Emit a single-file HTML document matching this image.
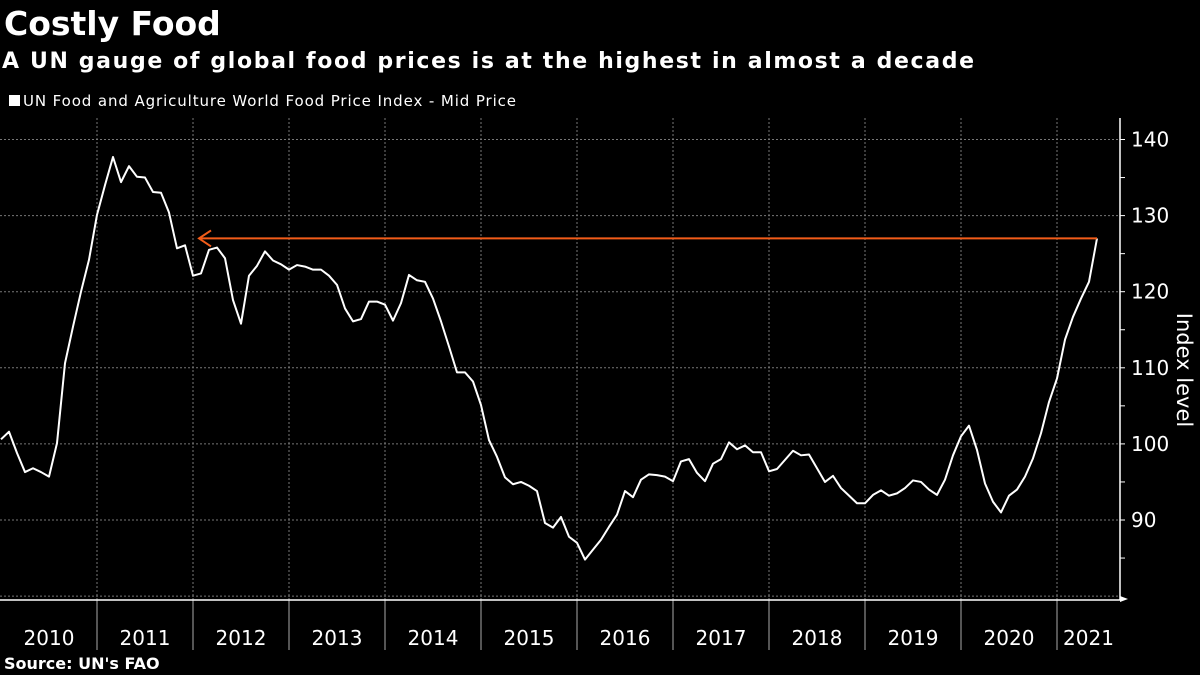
<!DOCTYPE html>
<html><head><meta charset="utf-8"><style>
body{margin:0;background:#000;width:1200px;height:675px;overflow:hidden;font-family:"DejaVu Sans","Liberation Sans",sans-serif;color:#fff}
svg{position:absolute;left:0;top:0}
</style></head><body>
<svg width="1200" height="675">
<text x="4" y="35" font-size="33" font-weight="bold" fill="#fff">Costly Food</text>
<text x="2" y="68" font-size="22" font-weight="bold" fill="#fff" textLength="972">A UN gauge of global food prices is at the highest in almost a decade</text>
<rect x="9" y="95" width="11" height="11" fill="#fff"/>
<text x="23" y="106" font-size="15" fill="#fff" textLength="493">UN Food and Agriculture World Food Price Index - Mid Price</text>
<g id="grid"></g><g id="axes"></g><g id="series"></g>
<text x="1177" y="370" font-size="21" fill="#fff" text-anchor="middle" transform="rotate(90 1177 370)">Index level</text>
<text x="4" y="669" font-size="16" font-weight="bold" fill="#fff">Source: UN's FAO</text>
</svg>
<script>
const years=["2010","2011","2012","2013","2014","2015","2016","2017","2018","2019","2020","2021"];
const yTicks=[90,100,110,120,130,140];
const gridVals=[80,90,100,110,120,130,140];
const prices=[100.6,101.6,98.8,96.3,96.8,96.3,95.7,100.1,110.6,115.4,120.0,124.2,130.1,134.0,137.7,134.4,136.5,135.1,135.0,133.1,133.0,130.4,125.7,126.1,122.1,122.4,125.5,125.8,124.4,118.9,115.8,122.1,123.4,125.3,124.1,123.6,122.9,123.5,123.3,122.9,122.9,122.1,120.9,117.8,116.1,116.4,118.7,118.7,118.3,116.2,118.5,122.2,121.5,121.3,119.1,116.1,112.8,109.4,109.4,108.2,105.1,100.5,98.3,95.6,94.7,95.0,94.5,93.8,89.6,89.0,90.4,87.8,87.0,84.8,86.1,87.4,89.1,90.7,93.8,93.0,95.3,96.0,95.9,95.7,95.1,97.7,98.0,96.2,95.1,97.4,98.0,100.2,99.3,99.8,98.9,98.9,96.4,96.7,97.9,99.1,98.5,98.6,96.8,95.0,95.8,94.2,93.2,92.2,92.2,93.3,93.9,93.2,93.5,94.2,95.2,95.0,94.0,93.3,95.3,98.5,101.0,102.4,99.2,94.8,92.4,91.0,93.2,94.0,95.7,98.1,101.4,105.5,108.6,113.7,116.7,119.1,121.3,127.0];
const NS="http://www.w3.org/2000/svg";
const X0=1,MW=8,AX=1120,AY=600;
const xOf=i=>X0+MW*i;
const yOf=v=>520-(v-90)*7.61;
function mk(tag,attrs,parent){const e=document.createElementNS(NS,tag);for(const k in attrs)e.setAttribute(k,attrs[k]);document.getElementById(parent).appendChild(e);return e;}
gridVals.forEach(v=>{const l=mk('line',{x1:0,x2:AX,y1:yOf(v),y2:yOf(v),stroke:'#777','stroke-dasharray':'2,2','stroke-width':1},'grid');

});
years.forEach((y,k)=>{const x=xOf(k*12);
if(k>0){const g=mk('line',{x1:x,x2:x,y1:118,y2:AY,stroke:'#777','stroke-dasharray':'2,2'},'grid');


const s=mk('line',{x1:x,x2:x,y1:AY,y2:650,stroke:'#aaa'},'axes');

}
const x2=Math.min(xOf((k+1)*12),AX);
const t=mk('text',{x:(x+x2)/2,y:645,'font-size':20,fill:'#fff','text-anchor':'middle'},'axes');t.textContent=y;

});
let a=mk('line',{x1:0,x2:AX,y1:AY,y2:AY,stroke:'#fff','stroke-width':1.5},'axes');


let ay=mk('line',{x1:AX,x2:AX,y1:118,y2:AY,stroke:'#fff','stroke-width':1.5},'axes');


let ar=mk('polygon',{points:`${AX},${AY-4} ${AX+8},${AY-1} ${AX},${AY+2}`,fill:'#fff'},'axes');


for(let v=85;v<=140;v+=5){const tk=mk('line',{x1:AX,x2:AX+5,y1:yOf(v),y2:yOf(v),stroke:'#fff'},'axes');

}
yTicks.forEach(v=>{const t=mk('text',{x:AX+11,y:yOf(v)+7,'font-size':20,fill:'#fff'},'axes');t.textContent=v;

});
const pts=prices.map((v,i)=>xOf(i)+','+yOf(v)).join(' ');
const pl=mk('polyline',{points:pts,fill:'none',stroke:'#fff','stroke-width':2,'stroke-linejoin':'round'},'series');


const last=prices[prices.length-1],ly=yOf(last),lx=xOf(prices.length-1),hx=xOf(24)+6;
const al=mk('line',{x1:lx,x2:hx,y1:ly,y2:ly,stroke:'#f25c19','stroke-width':2},'series');


const ah=mk('polyline',{points:`${hx+12},${ly-8} ${hx},${ly} ${hx+12},${ly+8}`,fill:'none',stroke:'#f25c19','stroke-width':2},'series');


</script>
</body></html>
